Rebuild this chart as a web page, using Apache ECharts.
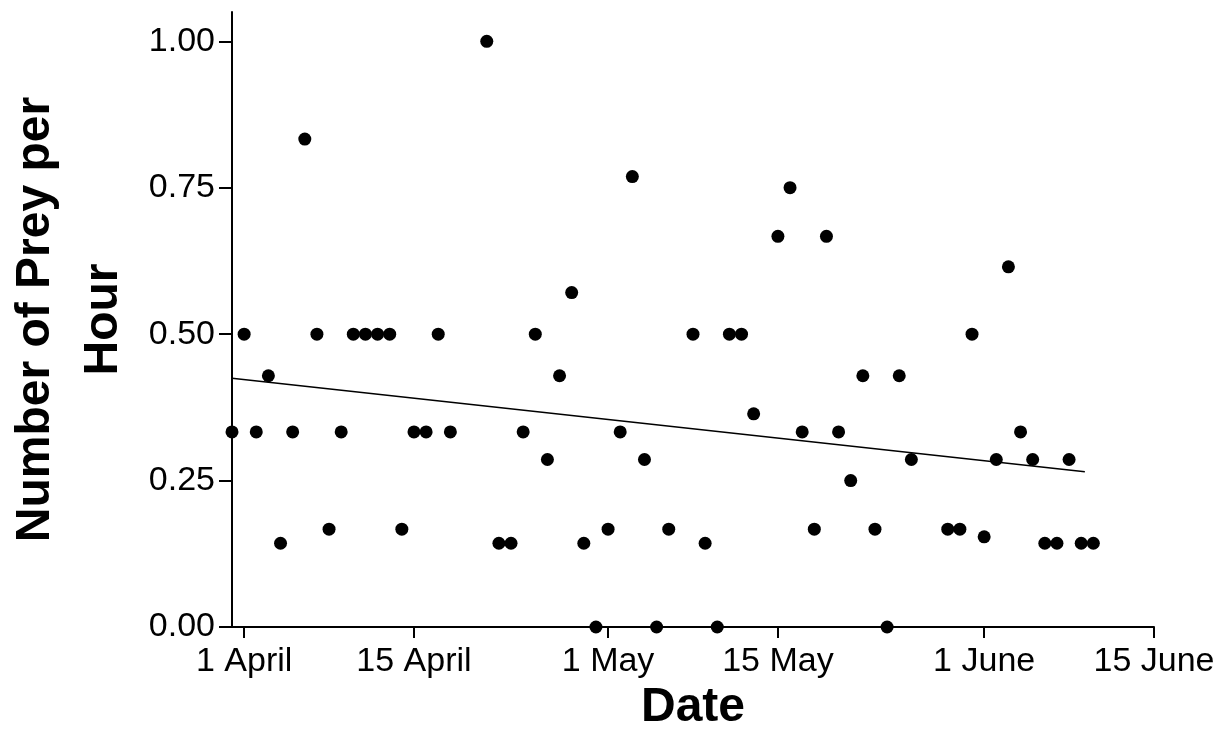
<!DOCTYPE html>
<html>
<head>
<meta charset="utf-8">
<script src="https://cdn.jsdelivr.net/npm/echarts@6/dist/echarts.min.js"></script>
<style>
  html, body { margin: 0; padding: 0; background: #fff; }
  #chart { width: 1219px; height: 744px; }
</style>
</head>
<body>
<div id="chart"></div>
<script>
// Day offsets from 1 April (0 = 1 April)
const days = [-1, 0, 1, 2, 3, 4, 5, 6, 7, 8, 9, 10, 11, 12, 13, 14, 15, 16, 17,
  20, 21, 22, 23, 24, 25, 26, 27, 28, 29, 30, 31, 32, 33, 34, 35,
  37, 38, 39, 40, 41, 42, 44, 45, 46, 47, 48, 49, 50, 51, 52, 53, 54, 55,
  58, 59, 60, 61, 62, 63, 64, 65, 66, 67, 68, 69, 70];
const preyPerHour = [0.333, 0.5, 0.333, 0.429, 0.143, 0.333, 0.833, 0.5, 0.167, 0.333, 0.5, 0.5, 0.5, 0.5, 0.167, 0.333, 0.333, 0.5, 0.333,
  1.0, 0.143, 0.143, 0.333, 0.5, 0.286, 0.429, 0.571, 0.143, 0.0, 0.167, 0.333, 0.769, 0.286, 0.0, 0.167,
  0.5, 0.143, 0.0, 0.5, 0.5, 0.364, 0.667, 0.75, 0.333, 0.167, 0.667, 0.333, 0.25, 0.429, 0.167, 0.0, 0.429, 0.286,
  0.167, 0.167, 0.5, 0.154, 0.286, 0.615, 0.333, 0.286, 0.143, 0.143, 0.286, 0.143, 0.143];

// Trend line end points
const trendDays = [-1, 69.3];
const trendValues = [0.4245, 0.265];

// Axis ticks
const xTickDays = [0, 14, 30, 44, 61, 75];
const xTickLabels = ['1 April', '15 April', '1 May', '15 May', '1 June', '15 June'];
const yTickValues = [0, 0.25, 0.5, 0.75, 1.0];

const FONT = '"Liberation Sans", Arial, Helvetica, sans-serif';

const chart = echarts.init(document.getElementById('chart'), null, { renderer: 'canvas' });

const points = days.map((d, i) => [d, preyPerHour[i]]);
const trend = trendDays.map((d, i) => [d, trendValues[i]]);

chart.setOption({
  animation: false,
  backgroundColor: '#ffffff',
  grid: { left: 232, top: 12, width: 922, height: 615, containLabel: false, outerBoundsMode: 'none' },
  xAxis: {
    type: 'value',
    min: -1,
    max: 75,
    name: 'Date',
    nameLocation: 'middle',
    nameGap: 45,
    nameTextStyle: { fontFamily: FONT, fontSize: 48, fontWeight: 'bold', color: '#000' },
    axisLine: { show: true, onZero: false, lineStyle: { color: '#000', width: 2 } },
    axisTick: { show: true, customValues: xTickDays, length: 11, lineStyle: { color: '#000', width: 2 } },
    axisLabel: {
      customValues: xTickDays,
      formatter: v => { const i = xTickDays.indexOf(v); return i >= 0 ? xTickLabels[i] : ''; },
      fontFamily: FONT, fontSize: 34, color: '#000', margin: 18
    },
    splitLine: { show: false }
  },
  yAxis: {
    type: 'value',
    min: 0,
    max: 1.05,
    name: 'Number of Prey per\nHour',
    nameLocation: 'middle',
    nameGap: 93,
    nameTextStyle: { fontFamily: FONT, fontSize: 48, fontWeight: 'bold', color: '#000', lineHeight: 68 },
    axisLine: { show: true, onZero: false, lineStyle: { color: '#000', width: 2 } },
    axisTick: { show: true, customValues: yTickValues, length: 13, lineStyle: { color: '#000', width: 2 } },
    axisLabel: {
      customValues: yTickValues,
      formatter: v => v.toFixed(2),
      fontFamily: FONT, fontSize: 34, color: '#000', margin: 17
    },
    splitLine: { show: false }
  },
  series: [
    {
      type: 'line',
      data: trend,
      showSymbol: false,
      symbol: 'none',
      lineStyle: { color: '#000', width: 1.5 },
      silent: true,
      z: 2
    },
    {
      type: 'scatter',
      data: points,
      symbol: 'circle',
      symbolSize: 13,
      itemStyle: { color: '#000', opacity: 1 },
      clip: false,
      z: 3
    }
  ]
});
</script>
</body>
</html>
